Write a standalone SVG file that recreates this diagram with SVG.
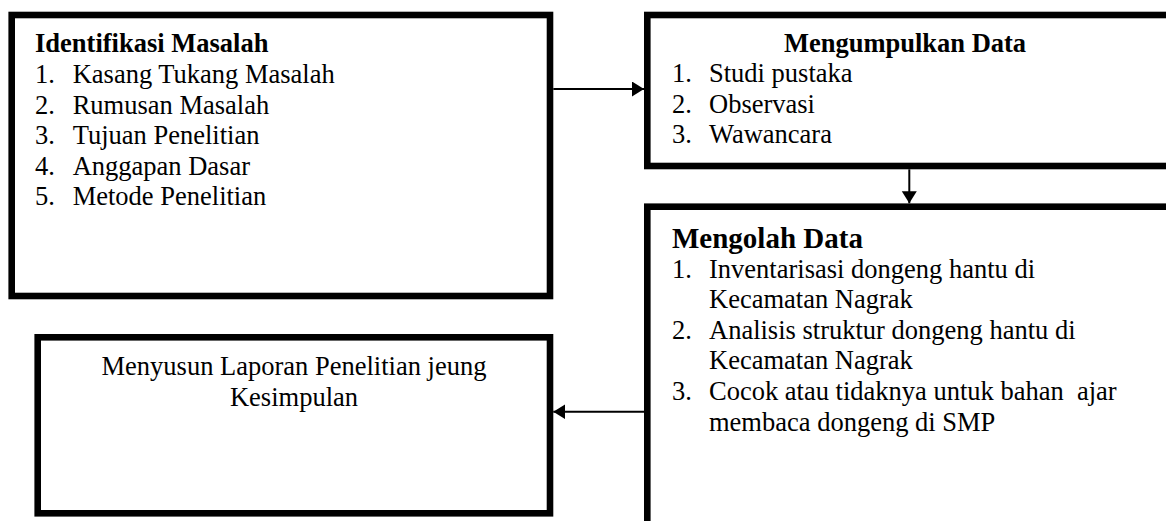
<svg xmlns="http://www.w3.org/2000/svg" width="1166" height="521" viewBox="0 0 1166 521">
<style>
.box{fill:#fff;stroke:#000;stroke-width:6.6}
.t{font-family:"Liberation Serif","Times New Roman",serif;font-size:26.5px;fill:#000}
.b{font-weight:bold}
.conn{stroke:#000;stroke-width:2;fill:none;marker-end:url(#ah)}
</style>
<defs>
<marker id="ah" markerUnits="userSpaceOnUse" markerWidth="13" markerHeight="16" refX="12" refY="7.5" orient="auto">
<path d="M0,0 L12,7.5 L0,15 Z" fill="#000"/>
</marker>
</defs>
<rect width="1166" height="521" fill="#fff"/>
<g id="identifikasi">
<rect class="box" x="11.7" y="15" width="538.3" height="281"/>
<text class="t b" x="35" y="52.3">Identifikasi Masalah</text>
<text class="t" x="35" y="83">1.</text><text class="t" x="72.7" y="83">Kasang Tukang Masalah</text>
<text class="t" x="35" y="113.5">2.</text><text class="t" x="72.7" y="113.5">Rumusan Masalah</text>
<text class="t" x="35" y="144">3.</text><text class="t" x="72.7" y="144">Tujuan Penelitian</text>
<text class="t" x="35" y="174.5">4.</text><text class="t" x="72.7" y="174.5">Anggapan Dasar</text>
<text class="t" x="35" y="205">5.</text><text class="t" x="72.7" y="205">Metode Penelitian</text>
</g>
<g id="mengumpulkan">
<rect class="box" x="647.3" y="15" width="530" height="151"/>
<text class="t b" x="905" y="52" text-anchor="middle">Mengumpulkan Data</text>
<text class="t" x="672" y="82">1.</text><text class="t" x="709" y="82">Studi pustaka</text>
<text class="t" x="672" y="112.5">2.</text><text class="t" x="709" y="112.5">Observasi</text>
<text class="t" x="672" y="143">3.</text><text class="t" x="709" y="143">Wawancara</text>
</g>
<g id="mengolah">
<rect class="box" x="647.3" y="206.7" width="530" height="330"/>
<text class="t b" x="672" y="247.5" style="font-size:29px">Mengolah Data</text>
<text class="t" x="672" y="277.5">1.</text><text class="t" x="709" y="277.5">Inventarisasi dongeng hantu di</text>
<text class="t" x="709" y="308">Kecamatan Nagrak</text>
<text class="t" x="672" y="338.5">2.</text><text class="t" x="709" y="338.5">Analisis struktur dongeng hantu di</text>
<text class="t" x="709" y="369">Kecamatan Nagrak</text>
<text class="t" x="672" y="400">3.</text><text class="t" x="709" y="400" style="white-space:pre">Cocok atau tidaknya untuk bahan  ajar</text>
<text class="t" x="709" y="431">membaca dongeng di SMP</text>
</g>
<g id="menyusun">
<rect class="box" x="37.7" y="337.3" width="512.3" height="176"/>
<text class="t" x="294" y="374.5" text-anchor="middle">Menyusun Laporan Penelitian jeung</text>
<text class="t" x="294" y="405.5" text-anchor="middle">Kesimpulan</text>
</g>
<g id="connectors">
<line class="conn" x1="553.3" y1="89" x2="644" y2="89"/>
<line class="conn" x1="909.3" y1="169.3" x2="909.3" y2="203.3"/>
<line class="conn" x1="644" y1="411.7" x2="553.3" y2="411.7"/>
</g>
</svg>
